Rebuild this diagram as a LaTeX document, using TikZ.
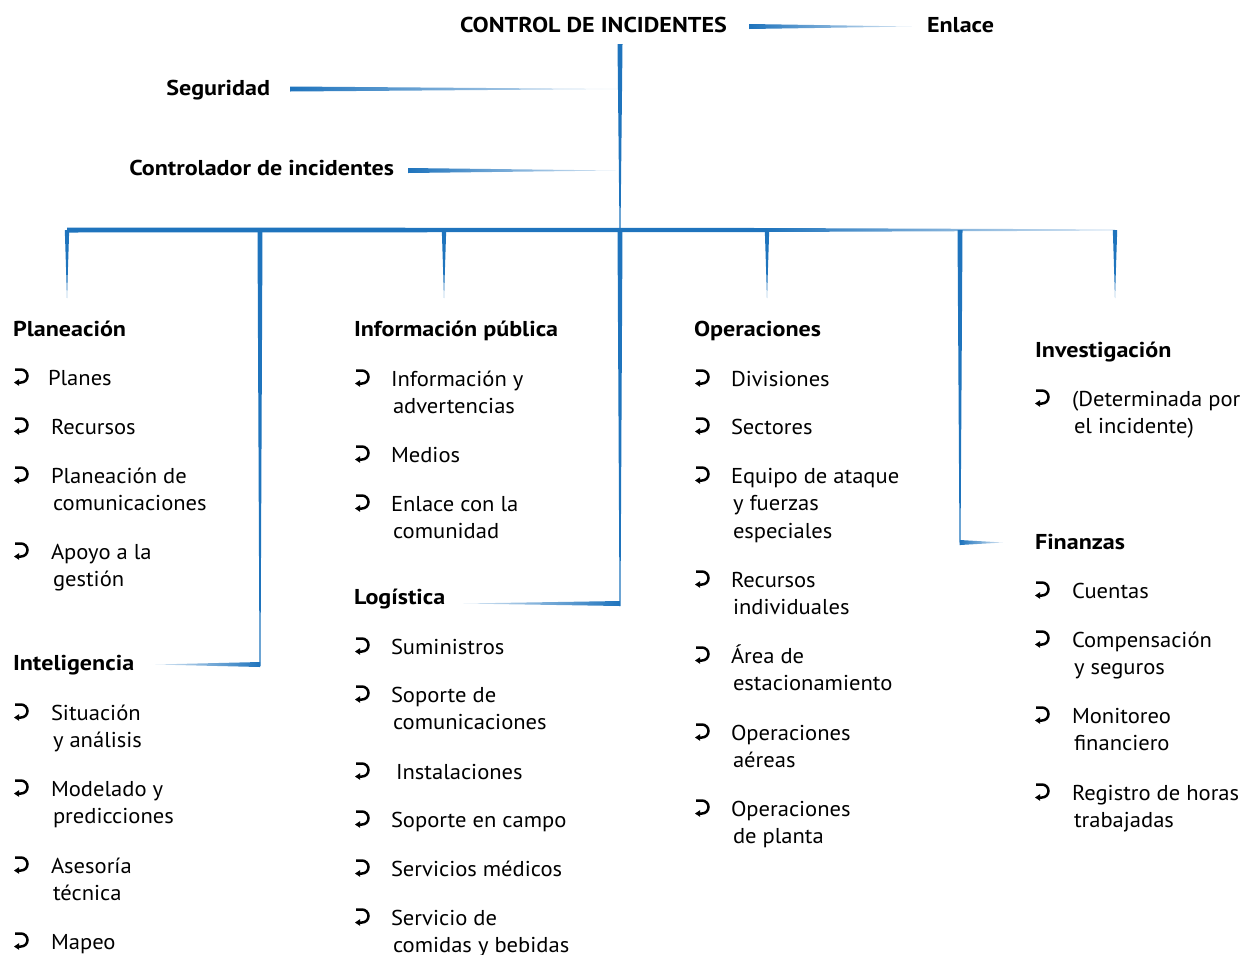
\documentclass[tikz,border=0pt]{standalone}
\usepackage{fontspec}
\setmainfont{PT Sans}[FakeStretch=1.05, BoldFeatures={FakeStretch=1.12}]
\usetikzlibrary{calc}
\definecolor{cblue}{HTML}{1F74BD}
\definecolor{cpale}{HTML}{DCE9F5}
\newcommand\basefont{\fontsize{21.5}{27.5}\selectfont}
% tapered horizontal connector: thick end, thin end, half height, shading
\newcommand\hwedge[4]{\shade[#4] ($(#1)+(0,-#3)$) -- ($(#1)+(0,#3)$) -- (#2) -- cycle;}
% tapered vertical connector: top, bottom, half width at top, half width at bottom
\newcommand\vwedge[4]{\fill[cblue] ($(#1)+(-#3,0)$) -- ($(#1)+(#3,0)$) -- ($(#2)+(#4,0)$) -- ($(#2)+(-#4,0)$) -- cycle;}
% list entry: name, bullet x, text x, first baseline y, lines
\newcommand\itm[5]{\pic at (#2,#4-9) {bul};
  \node[item] (#1) at (#3,#4) {\begin{tabular}[t]{@{}l@{}}#5\end{tabular}};}
\begin{document}
\begin{tikzpicture}[x=1pt,y=-1pt,
  every node/.style={inner sep=0pt, outer sep=0pt, font=\basefont},
  head/.style={font=\basefont\bfseries, anchor=base west},
  item/.style={anchor=base west},
  bul/.pic={
    \draw[line width=2.5pt] (-7,-6.5) -- (-1,-6.5)
      arc[start angle=-90, end angle=90, radius=6.5] -- (-4,6.5);
    \fill (-3,3.2) -- (-8,6.5) -- (-3,9.8) -- cycle;
  },
  lr/.style={left color=cblue, middle color=cblue!85!cpale, right color=cpale},
  rl/.style={left color=cpale, middle color=cblue!85!cpale, right color=cblue}
]
\useasboundingbox (0,0) rectangle (1246,954);

% ---------- top level ----------
\node[head] (title) at (460,32) {CONTROL DE INCIDENTES};
\node[head] (enlace) at (927,32) {Enlace};
\node[head, anchor=base east] (seg) at (270,95) {Seguridad};
\node[head, anchor=base east] (ctrl) at (394,175) {Controlador de incidentes};

\coordinate (top) at (620,44);
\coordinate (hub) at (620,230);
\coordinate (enA) at (749,26.5);
\coordinate (enB) at ($(enlace.base west)+(-15,-5.5)$);
\coordinate (segA) at ($(seg.base east)+(20,-6)$);
\coordinate (segB) at (618,89);
\coordinate (ctA) at ($(ctrl.base east)+(14,-4.5)$);
\coordinate (ctB) at (616,170.5);

\hwedge{enA}{enB}{2.5}{lr}
\hwedge{segA}{segB}{2.5}{lr}
\hwedge{ctA}{ctB}{2.5}{lr}
\vwedge{top}{hub}{2.5}{0.5}

% ---------- horizontal bus ----------
\coordinate (busL) at (67,230);
\coordinate (busM) at (765,230);
\coordinate (busR) at (1115,230);
\fill[cblue] ($(busL)+(0,-2.5)$) -- ($(busM)+(0,-2)$) -- ($(busM)+(0,2)$) -- ($(busL)+(0,2.5)$) -- cycle;
\shade[left color=cblue, right color=cpale] ($(busM)+(0,-2)$) -- ($(busR)+(0,-0.6)$) -- ($(busR)+(0,0.6)$) -- ($(busM)+(0,2)$) -- cycle;

% ---------- section headings ----------
\node[head] (plan) at (13,336) {Planeación};
\node[head] (intel) at (13,670) {Inteligencia};
\node[head] (info) at (354,336) {Información pública};
\node[head] (logi) at (354,604) {Logística};
\node[head] (oper) at (694,336) {Operaciones};
\node[head] (inv) at (1035,357) {Investigación};
\node[head] (fin) at (1035,549) {Finanzas};

% ---------- drops from the bus ----------
\coordinate (d1) at (67,230);   \coordinate (e1) at (67,298);
\coordinate (d2) at (260,230);  \coordinate (e2) at (260,666);
\coordinate (d3) at (444,230);  \coordinate (e3) at (444,298);
\coordinate (d4) at (620,230);  \coordinate (e4) at (620,606);
\coordinate (d5) at (767,230);  \coordinate (e5) at (767,298);
\coordinate (d6) at (960,230);  \coordinate (e6) at (960,545);
\coordinate (d7) at (1115,230); \coordinate (e7) at (1115,298);
\vwedge{d1}{e1}{2.2}{0}
\vwedge{d2}{e2}{2.5}{0.5}
\vwedge{d3}{e3}{2.2}{0}
\vwedge{d4}{e4}{2.5}{0.5}
\vwedge{d5}{e5}{2.2}{0}
\vwedge{d6}{e6}{2.5}{0.5}
\vwedge{d7}{e7}{2.2}{0}

\coordinate (inA) at (260,664.5);
\coordinate (inB) at (155,664.5);
\coordinate (loA) at (620,603.5);
\coordinate (loB) at (463,603.5);
\coordinate (fiA) at (960,542.5);
\coordinate (fiB) at (1003,542.5);
\hwedge{inA}{inB}{2.5}{rl}
\hwedge{loA}{loB}{2.5}{rl}
\hwedge{fiA}{fiB}{2.5}{lr}

% ---------- Planeación / Inteligencia ----------
\itm{p1}{22}{48}{385}{Planes}
\itm{p2}{22}{51}{434}{Recursos}
\itm{p3}{22}{51}{483}{Planeación de\\\hspace*{2pt}comunicaciones}
\itm{p4}{22}{51}{559}{Apoyo a la\\\hspace*{2pt}gestión}
\itm{i1}{22}{51}{720}{Situación\\\hspace*{2pt}y análisis}
\itm{i2}{22}{51}{796}{Modelado y\\\hspace*{2pt}predicciones}
\itm{i3}{22}{51}{873}{Asesoría\\\hspace*{2pt}técnica}
\itm{i4}{22}{51}{949}{Mapeo}

% ---------- Información pública / Logística ----------
\itm{f1}{363}{391}{386}{Información y\\\hspace*{2pt}advertencias}
\itm{f2}{363}{391}{462}{Medios}
\itm{f3}{363}{391}{511}{Enlace con la\\\hspace*{2pt}comunidad}
\itm{l1}{363}{391}{654}{Suministros}
\itm{l2}{363}{391}{702}{Soporte de\\\hspace*{2pt}comunicaciones}
\itm{l3}{363}{396}{779}{Instalaciones}
\itm{l4}{363}{391}{827}{Soporte en campo}
\itm{l5}{363}{391}{876}{Servicios médicos}
\itm{l6}{363}{391}{925}{Servicio de\\\hspace*{2pt}comidas y bebidas}

% ---------- Operaciones ----------
\itm{o1}{703}{731}{386}{Divisiones}
\itm{o2}{703}{731}{434}{Sectores}
\itm{o3}{703}{731}{483}{Equipo de ataque\\\hspace*{2pt}y fuerzas\\\hspace*{2pt}especiales}
\itm{o4}{703}{731}{587}{Recursos\\\hspace*{2pt}individuales}
\itm{o5}{703}{731}{663}{Área de\\\hspace*{2pt}estacionamiento}
\itm{o6}{703}{731}{740}{Operaciones\\\hspace*{2pt}aéreas}
\itm{o7}{703}{731}{816}{Operaciones\\\hspace*{2pt}de planta}

% ---------- Investigación / Finanzas ----------
\itm{v1}{1043}{1072}{406}{(Determinada por\\\hspace*{2pt}el incidente)}
\itm{n1}{1043}{1072}{598}{Cuentas}
\itm{n2}{1043}{1072}{647}{Compensación\\\hspace*{2pt}y seguros}
\itm{n3}{1043}{1072}{723}{Monitoreo\\\hspace*{2pt}financiero}
\itm{n4}{1043}{1072}{800}{Registro de horas\\\hspace*{2pt}trabajadas}
\end{tikzpicture}
\end{document}
